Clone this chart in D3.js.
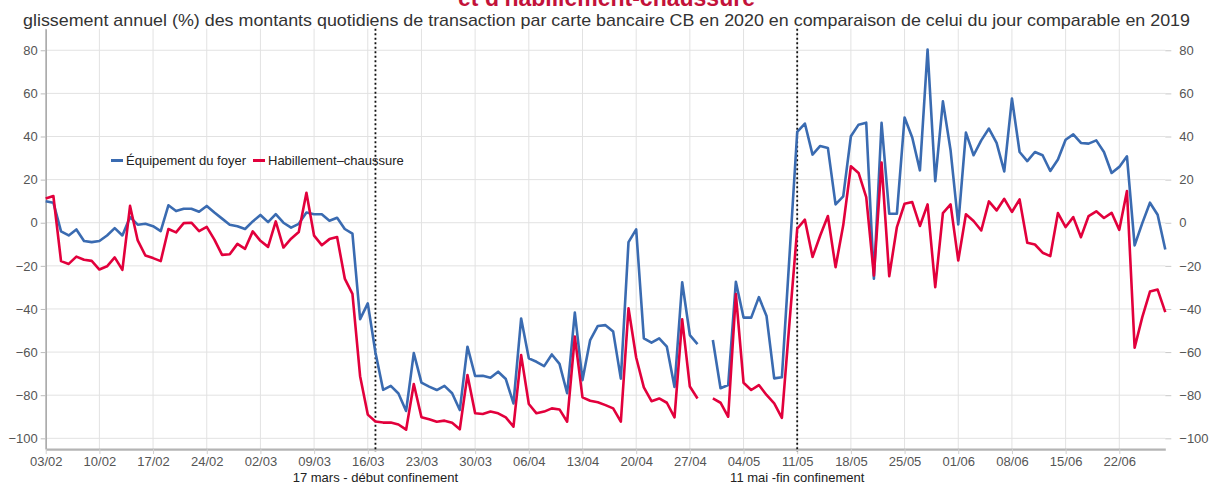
<!DOCTYPE html>
<html>
<head>
<meta charset="utf-8">
<script src="https://cdn.jsdelivr.net/npm/d3@7"></script>
<style>
  body { margin: 0; background: #fff; }
  .chart text { font-family: "Liberation Sans", Arial, sans-serif; }
  .axis text { fill: #555; font-size: 13px; }
  .grid line { stroke: #e2e2e2; stroke-width: 1; }
</style>
</head>
<body>
<div class="chart"></div>
<script>
// first day of the series, then one value per day (null = no data)
var startDay = "03/02/2020";

var equipement = [
  10.0, 9.3, -4.0, -5.9, -3.1, -8.5, -9.0, -8.5, -5.9, -2.5,
  -5.9, 2.6, -0.9, -0.5, -1.6, -3.9, 8.1, 5.4, 6.5, 6.5,
  5.1, 7.8, 4.7, 1.9, -0.9, -1.6, -2.9, 0.6, 3.6, 0.3,
  4.0, 0.0, -2.3, -0.5, 4.7, 3.9, 3.9, 0.9, 2.3, -2.9,
  -5.1, -44.7, -37.4, -60.2, -77.5, -75.7, -79.2, -87.3, -60.5, -74.2,
  -76.0, -77.6, -75.7, -79.1, -86.9, -57.5, -71.1, -71.0, -71.9, -69.1,
  -72.5, -83.8, -44.4, -62.9, -64.5, -66.5, -61.1, -65.5, -79.1, -41.7,
  -73.0, -54.4, -47.9, -47.5, -50.5, -72.3, -9.0, -3.1, -53.6, -55.6,
  -53.6, -57.5, -76.2, -27.6, -52.1, -56.3, null, -54.4, -76.8, -75.3,
  -27.4, -44.0, -44.0, -34.5, -43.3, -72.2, -71.7, -15.0, 42.1, 46.0,
  31.6, 35.6, 34.7, 8.5, 12.2, 40.1, 45.5, 46.4, -26.0, 46.3,
  4.2, 4.2, 48.8, 39.5, 24.3, 80.3, 19.3, 56.3, 33.6, -0.8,
  41.8, 31.3, 38.2, 43.7, 37.0, 23.8, 57.6, 32.8, 28.6, 32.8,
  31.3, 24.0, 29.3, 38.5, 41.0, 37.0, 36.7, 38.2, 32.8, 23.1,
  25.9, 30.8, -10.5, -0.2, 9.3, 3.7, -12.4
];

var habillement = [
  11.2, 12.4, -17.8, -19.1, -15.7, -17.2, -17.7, -21.7, -20.2, -16.1,
  -21.9, 7.8, -8.2, -15.2, -16.4, -17.8, -2.9, -4.5, -0.2, 0.0,
  -3.9, -1.9, -7.8, -14.9, -14.6, -9.8, -12.1, -4.0, -8.4, -11.2,
  0.6, -11.5, -7.4, -4.3, 13.9, -6.0, -10.4, -7.6, -6.6, -25.9,
  -33.0, -71.2, -89.0, -92.2, -92.7, -92.7, -93.6, -96.0, -74.8, -90.2,
  -91.2, -92.3, -91.8, -92.8, -95.8, -70.6, -88.4, -88.7, -87.6, -88.4,
  -90.3, -94.6, -61.4, -84.1, -88.4, -87.6, -86.1, -86.6, -92.3, -52.8,
  -81.0, -82.6, -83.3, -84.6, -86.1, -92.3, -39.7, -62.5, -76.4, -82.8,
  -81.5, -83.5, -90.3, -44.8, -76.0, -81.5, null, -81.5, -83.5, -90.0,
  -33.1, -74.2, -77.6, -75.3, -79.9, -83.8, -90.5, -46.0, -2.8, 1.4,
  -15.9, -5.9, 3.1, -20.6, -1.2, 26.2, 23.1, 11.9, -24.5, 27.9,
  -24.8, -2.0, 8.8, 9.6, -1.5, 8.5, -29.9, 4.5, 8.5, -17.5,
  3.9, 0.8, -3.6, 9.9, 5.7, 11.1, 5.0, 10.8, -9.3, -10.1,
  -13.9, -15.5, 4.5, -2.0, 2.6, -6.7, 3.1, 5.3, 2.2, 4.6,
  -3.3, 14.7, -58.0, -43.8, -31.9, -31.0, -41.5
];

var seriesNames = ["Équipement du foyer", "Habillement\u2013chaussure"];
var seriesColors = ["#3a6bb1", "#e2003c"];

var tickLabels = ["03/02", "10/02", "17/02", "24/02", "02/03", "09/03", "16/03",
  "23/03", "30/03", "06/04", "13/04", "20/04", "27/04", "04/05", "11/05",
  "18/05", "25/05", "01/06", "08/06", "15/06", "22/06"];
var yTicks = [-100, -80, -60, -40, -20, 0, 20, 40, 60, 80];

var eventDates = ["17/03/2020", "11/05/2020"];
var eventLabels = ["17 mars - début confinement", "11 mai -fin confinement"];

var titleText = "et d'habillement-chaussure";
var subtitleText = "glissement annuel (%) des montants quotidiens de transaction par carte bancaire CB en 2020 en comparaison de celui du jour comparable en 2019";

var svgWidth = 1213;
var svgHeight = 484;
var margin = { top: 28.7, right: 47.7, bottom: 34.9, left: 45.7 };
var width = svgWidth - margin.left - margin.right;
var height = svgHeight - margin.top - margin.bottom;

var parseDay = d3.timeParse("%d/%m/%Y");
var start = parseDay(startDay);

var rows = equipement.map(function (v, i) {
  return { date: d3.timeDay.offset(start, i), a: v, b: habillement[i] };
});

var svg = d3.select(".chart")
  .append("svg")
  .attr("width", svgWidth)
  .attr("height", svgHeight);

var chartGroup = svg.append("g")
  .attr("transform", `translate(${margin.left}, ${margin.top})`);

// scales
var xScale = d3.scaleTime()
  .domain([start, rows[rows.length - 1].date])
  .range([0, width]);

var yScale = d3.scaleLinear()
  .domain([-105, 90])
  .range([height, 0]);

var tickDates = tickLabels.map(function (t) { return parseDay(t + "/2020"); });

// grid
chartGroup.append("g")
  .attr("class", "grid")
  .selectAll("line.h")
  .data(yTicks)
  .enter()
  .append("line")
  .attr("x1", 0)
  .attr("x2", width)
  .attr("y1", d => yScale(d))
  .attr("y2", d => yScale(d));

chartGroup.append("g")
  .attr("class", "grid")
  .selectAll("line.v")
  .data(tickDates)
  .enter()
  .append("line")
  .attr("x1", d => xScale(d))
  .attr("x2", d => xScale(d))
  .attr("y1", 0)
  .attr("y2", height);

// axes
var bottomAxis = d3.axisBottom(xScale)
  .tickValues(tickDates)
  .tickFormat(d3.timeFormat("%d/%m"))
  .tickSize(5)
  .tickSizeOuter(0);

var leftAxis = d3.axisLeft(yScale)
  .tickValues(yTicks)
  .tickSize(5)
  .tickSizeOuter(0);

var rightAxis = d3.axisRight(yScale)
  .tickValues(yTicks)
  .tickSize(6)
  .tickPadding(8);

var gLeft = chartGroup.append("g")
  .attr("class", "axis")
  .call(leftAxis);
gLeft.select(".domain").attr("stroke", "#a8a8a8").attr("stroke-width", 1.5);
gLeft.selectAll(".tick line").attr("stroke", "#bdbdbd");

var gRight = chartGroup.append("g")
  .attr("class", "axis")
  .attr("transform", `translate(${width},0)`)
  .call(rightAxis);
gRight.select(".domain").remove();
gRight.selectAll(".tick line").attr("stroke", "#c8c8c8");

var gBottom = chartGroup.append("g")
  .attr("class", "axis")
  .attr("transform", `translate(0,${height})`)
  .call(bottomAxis);
gBottom.select(".domain").attr("stroke", "#b4b4b4").attr("stroke-width", 2.2);
gBottom.selectAll(".tick line").attr("stroke", "#d0d0d0");

// lockdown markers
eventDates.forEach(function (d, i) {
  var x = xScale(parseDay(d));
  chartGroup.append("line")
    .attr("x1", x).attr("x2", x)
    .attr("y1", 0).attr("y2", height + 3)
    .attr("stroke", "#111")
    .attr("stroke-width", 1.8)
    .attr("stroke-dasharray", "2,2.5");
  chartGroup.append("text")
    .attr("x", x)
    .attr("y", height + 33)
    .attr("text-anchor", "middle")
    .attr("font-size", "13px")
    .attr("fill", "#222")
    .text(eventLabels[i]);
});

// lines
var keys = ["a", "b"];
keys.forEach(function (k, i) {
  var line = d3.line()
    .defined(d => d[k] != null)
    .x(d => xScale(d.date))
    .y(d => yScale(d[k]));
  chartGroup.append("path")
    .datum(rows)
    .attr("fill", "none")
    .attr("stroke", seriesColors[i])
    .attr("stroke-width", 2.6)
    .attr("stroke-linejoin", "round")
    .attr("d", line);
});

// legend
var legend = svg.append("g")
  .attr("transform", "translate(111,160.5)");
var legendX = [0, 142];
seriesNames.forEach(function (name, i) {
  var g = legend.append("g").attr("transform", `translate(${legendX[i]},0)`);
  g.append("line")
    .attr("x1", 0).attr("x2", 12)
    .attr("stroke", seriesColors[i])
    .attr("stroke-width", 3);
  g.append("text")
    .attr("x", 15)
    .attr("dy", "0.35em")
    .attr("font-size", "13px")
    .attr("fill", "#222")
    .text(name);
});

// titles (the main title is cut by the top edge, as in the source)
svg.append("text")
  .attr("x", 606.5)
  .attr("y", 6)
  .attr("text-anchor", "middle")
  .attr("font-size", "23px")
  .attr("font-weight", "bold")
  .attr("fill", "#c3123a")
  .text(titleText);

svg.append("text")
  .attr("x", 606.5)
  .attr("y", 25.5)
  .attr("text-anchor", "middle")
  .attr("font-size", "17px")
  .attr("fill", "#333")
  .attr("textLength", 1167)
  .attr("lengthAdjust", "spacingAndGlyphs")
  .text(subtitleText);
</script>
</body>
</html>
